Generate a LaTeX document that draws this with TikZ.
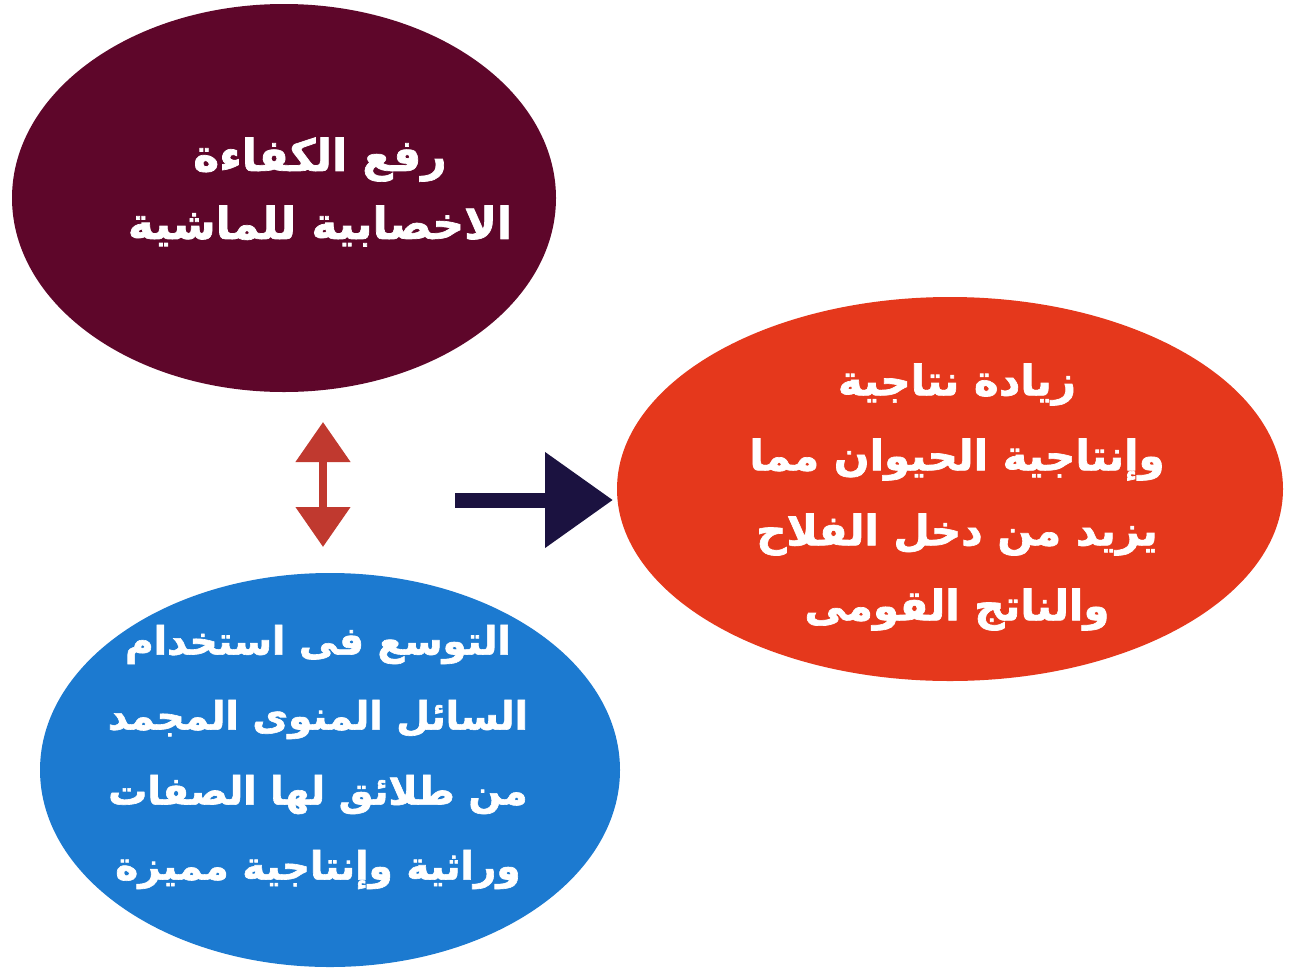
\documentclass[tikz,border=0pt]{standalone}
\usepackage{fontspec}
\usetikzlibrary{shapes.geometric,arrows.meta}
\TeXXeTstate=1
\newfontfamily\arabicfont[Script=Arabic,FakeBold=1.6]{DejaVu Sans Bold}
\definecolor{cmaroon}{RGB}{94,6,42}
\definecolor{cred}{RGB}{229,56,28}
\definecolor{cblue}{RGB}{28,122,208}
\definecolor{carrowred}{RGB}{192,57,47}
\definecolor{cnavy}{RGB}{27,18,64}
\tikzset{
  blob/.style={ellipse, draw=none, inner sep=0pt},
  label text/.style={text=white, align=center, inner sep=0pt,
     font=\arabicfont\bfseries\fontsize{42}{75}\selectfont},
}
\begin{document}
\begin{tikzpicture}[x=1pt,y=-1pt]
\useasboundingbox (0,0) rectangle (1289,972);
\fill[white] (0,0) rectangle (1289,972);
% ellipses
\node[blob, fill=cmaroon, minimum width=544pt, minimum height=388pt] (top) at (284,198) {};
\node[blob, fill=cred, minimum width=666pt, minimum height=384pt] (right) at (950,489) {};
\node[blob, fill=cblue, minimum width=580pt, minimum height=394pt] (bottom) at (330,770) {};
% texts
\node[label text, font=\arabicfont\bfseries\fontsize{44}{68}\selectfont] (toptext) at (320,192) {\beginR رفع الكفاءة\endR\\\beginR الاخصابية للماشية\endR};
\node[label text] (righttext) at (957,497) {\beginR زيادة نتاجية\endR\\\beginR وإنتاجية الحيوان مما\endR\\\beginR يزيد من دخل الفلاح\endR\\\beginR والناتج القومى\endR};
\node[label text, font=\arabicfont\bfseries\fontsize{39}{75}\selectfont] (bottomtext) at (318,757) {\beginR التوسع فى استخدام\endR\\\beginR السائل المنوى المجمد\endR\\\beginR من طلائق لها الصفات\endR\\\beginR وراثية وإنتاجية مميزة\endR};
% arrows
\coordinate (dtop) at (323,422);
\coordinate (dbot) at (323,547);
\draw[carrowred, line width=8pt,
  {Triangle[length=40pt,width=53pt]}-{Triangle[length=40pt,width=53pt]}] (dbot) -- (dtop);
\coordinate (rstart) at (455,500);
\coordinate (rend) at (613,500);
\draw[cnavy, line width=15pt, -{Triangle[length=68pt,width=92pt]}] (rstart) -- (rend);
\end{tikzpicture}
\end{document}
